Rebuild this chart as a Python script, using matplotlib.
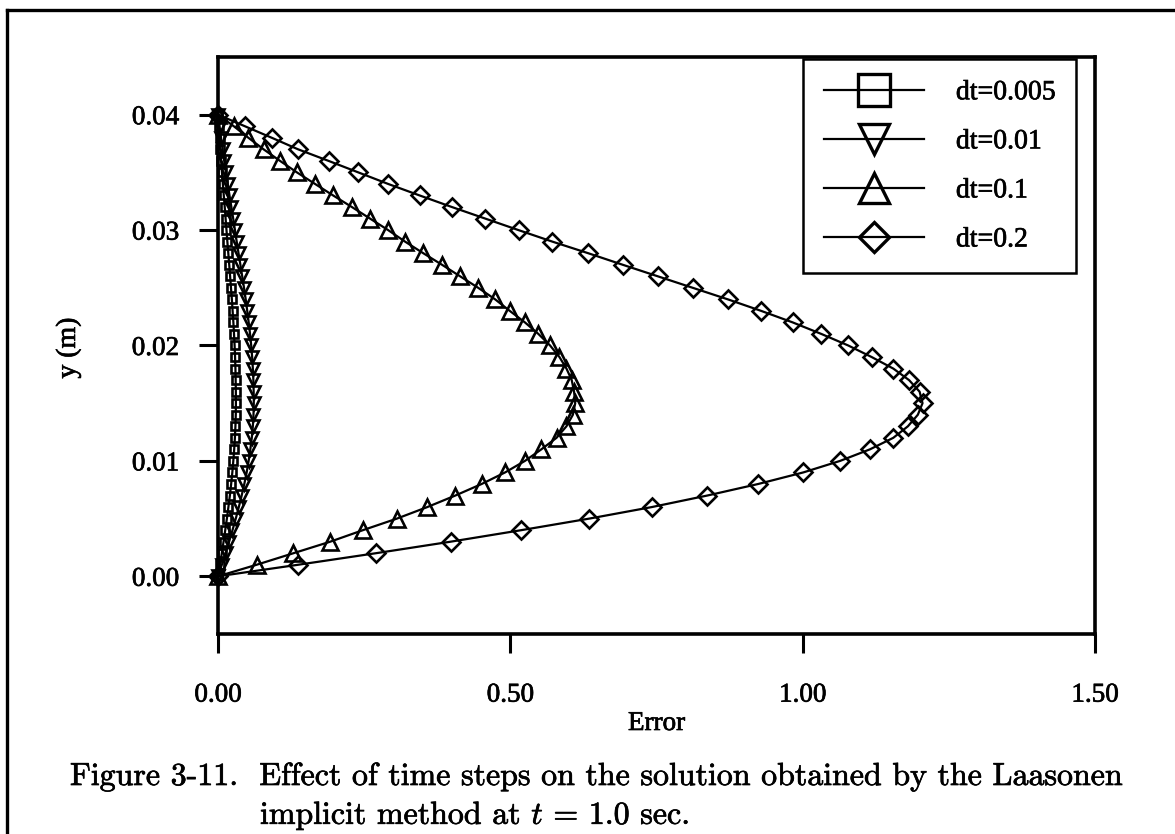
import matplotlib
matplotlib.use("Agg")
import matplotlib.pyplot as plt
from matplotlib.lines import Line2D
import matplotlib.patheffects as pe

# ---------------- data ----------------
y_m = [0.000, 0.001, 0.002, 0.003, 0.004, 0.005, 0.006, 0.007, 0.008, 0.009,
       0.010, 0.011, 0.012, 0.013, 0.014, 0.015, 0.016, 0.017, 0.018, 0.019,
       0.020, 0.021, 0.022, 0.023, 0.024, 0.025, 0.026, 0.027, 0.028, 0.029,
       0.030, 0.031, 0.032, 0.033, 0.034, 0.035, 0.036, 0.037, 0.038, 0.039,
       0.040]

err_dt0005 = [0.0, 0.0033, 0.0065, 0.0095, 0.0124, 0.0152, 0.0178, 0.0203, 0.0225, 0.0245,
              0.0262, 0.0277, 0.0289, 0.0298, 0.0304, 0.0306, 0.0305, 0.0302, 0.0298, 0.0292,
              0.0284, 0.0274, 0.0263, 0.0250, 0.0237, 0.0222, 0.0207, 0.0192, 0.0176, 0.0160,
              0.0145, 0.0130, 0.0115, 0.0099, 0.0083, 0.0068, 0.0053, 0.0039, 0.0026, 0.0014,
              0.0]

err_dt001 = [0.0, 0.0066, 0.0129, 0.0190, 0.0248, 0.0304, 0.0356, 0.0405, 0.0450, 0.0490,
             0.0524, 0.0553, 0.0578, 0.0596, 0.0607, 0.0612, 0.0610, 0.0605, 0.0596, 0.0584,
             0.0568, 0.0548, 0.0525, 0.0500, 0.0474, 0.0445, 0.0414, 0.0383, 0.0351, 0.0320,
             0.0290, 0.0260, 0.0229, 0.0197, 0.0166, 0.0135, 0.0106, 0.0078, 0.0052, 0.0027,
             0.0]

err_dt01 = [0.0, 0.066, 0.129, 0.192, 0.248, 0.306, 0.358, 0.406, 0.451, 0.491,
            0.525, 0.553, 0.579, 0.596, 0.607, 0.611, 0.609, 0.605, 0.596, 0.584,
            0.568, 0.548, 0.525, 0.499, 0.474, 0.445, 0.414, 0.383, 0.351, 0.320,
            0.291, 0.260, 0.229, 0.197, 0.166, 0.135, 0.106, 0.078, 0.052, 0.027,
            0.0]

err_dt02 = [0.0, 0.137, 0.270, 0.398, 0.519, 0.635, 0.742, 0.837, 0.924, 1.001,
            1.064, 1.115, 1.155, 1.180, 1.197, 1.205, 1.200, 1.182, 1.155, 1.118,
            1.078, 1.032, 0.983, 0.929, 0.872, 0.812, 0.752, 0.692, 0.633, 0.572,
            0.514, 0.457, 0.400, 0.345, 0.291, 0.240, 0.189, 0.137, 0.092, 0.046,
            0.0]

series_labels = ["dt=0.005", "dt=0.01", "dt=0.1", "dt=0.2"]
x_ticks = [0.0, 0.5, 1.0, 1.5]
y_ticks = [0.00, 0.01, 0.02, 0.03, 0.04]
x_label = "Error"
y_label = "y (m)"
caption_1 = "Figure 3-11.  Effect of time steps on the solution obtained by the Laasonen"
caption_2 = "implicit method at $t$ = 1.0 sec."

# ---------------- style ----------------
plt.rcParams["mathtext.fontset"] = "cm"
serif = "Liberation Serif"
heavy = [pe.withStroke(linewidth=0.5, foreground="black")]

W, H = 1175, 834
fig = plt.figure(figsize=(W / 100, H / 100), dpi=100)
L, R, T, B = 218, 1095, 57, 634
ax = fig.add_axes([L / W, 1 - B / H, (R - L) / W, (B - T) / H])

markers = ["s", "v", "^", "D"]
msizes = [5.8, 9.0, 11.0, 9.2]
leg_msizes = [23.5, 22.0, 22.0, 15.5]
all_err = [err_dt0005, err_dt001, err_dt01, err_dt02]

for err, mk, ms, lab in zip(all_err, markers, msizes, series_labels):
    ax.plot(err, y_m, color="black", lw=1.6, marker=mk, ms=ms,
            mfc="none", mec="black", mew=1.9, label=lab, clip_on=False, zorder=3)

ax.set_xlim(0.0, 1.5)
ax.set_ylim(-0.005, 0.045)
ax.set_xticks(x_ticks)
ax.set_yticks(y_ticks)
ax.set_xticklabels(["%.2f" % v for v in x_ticks], fontfamily=serif, fontsize=19.5)
ax.set_yticklabels(["%.2f" % v for v in y_ticks], fontfamily=serif, fontsize=19.5)
for t in ax.get_xticklabels() + ax.get_yticklabels():
    t.set_path_effects(heavy)
ax.tick_params(axis="x", direction="out", length=14, width=2.2, pad=21, top=False)
ax.tick_params(axis="y", direction="out", length=14, width=2.2, pad=14, right=False)
for s in ax.spines.values():
    s.set_linewidth(2.6)

ax.set_xlabel(x_label, fontfamily=serif, fontsize=19.5, path_effects=heavy)
ax.xaxis.set_label_coords(0.5, (B - 711) / (B - T))
ax.set_ylabel(y_label, fontfamily=serif, fontsize=20, path_effects=heavy)
ax.yaxis.set_label_coords((81 - L) / (R - L), 0.5 + (345.5 - 348) / (B - T))

leg = ax.legend(loc="upper right",
                bbox_to_anchor=((1076 - L) / (R - L), (B - 59) / (B - T)),
                borderaxespad=0.0, prop={"family": serif, "size": 20},
                frameon=True, fancybox=False, framealpha=1.0, edgecolor="black",
                handlelength=3.6, handletextpad=1.15, labelspacing=0.85,
                borderpad=0.75)
leg.get_frame().set_linewidth(1.8)
for h, ms in zip(leg.legend_handles, leg_msizes):
    h.set_markersize(ms)
    h.set_markeredgewidth(2.4)
for t in leg.get_texts():
    t.set_path_effects(heavy)

# outer figure frame (left and top edges visible)
fx = 7 / W
fy = 1 - 10 / H
fig.add_artist(Line2D([fx, fx], [0, fy], transform=fig.transFigure, color="black", lw=2.4))
fig.add_artist(Line2D([fx, 1.0], [fy, fy], transform=fig.transFigure, color="black", lw=2.4))

# caption
cap_size = 23
fig.text(70 / W, 1 - 785 / H, caption_1, fontfamily="cmr10", fontsize=cap_size,
         ha="left", va="baseline", path_effects=heavy)
fig.text(260 / W, 1 - 824 / H, caption_2, fontfamily="cmr10", fontsize=cap_size,
         ha="left", va="baseline", path_effects=heavy)

fig.savefig("out.png", dpi=100)
